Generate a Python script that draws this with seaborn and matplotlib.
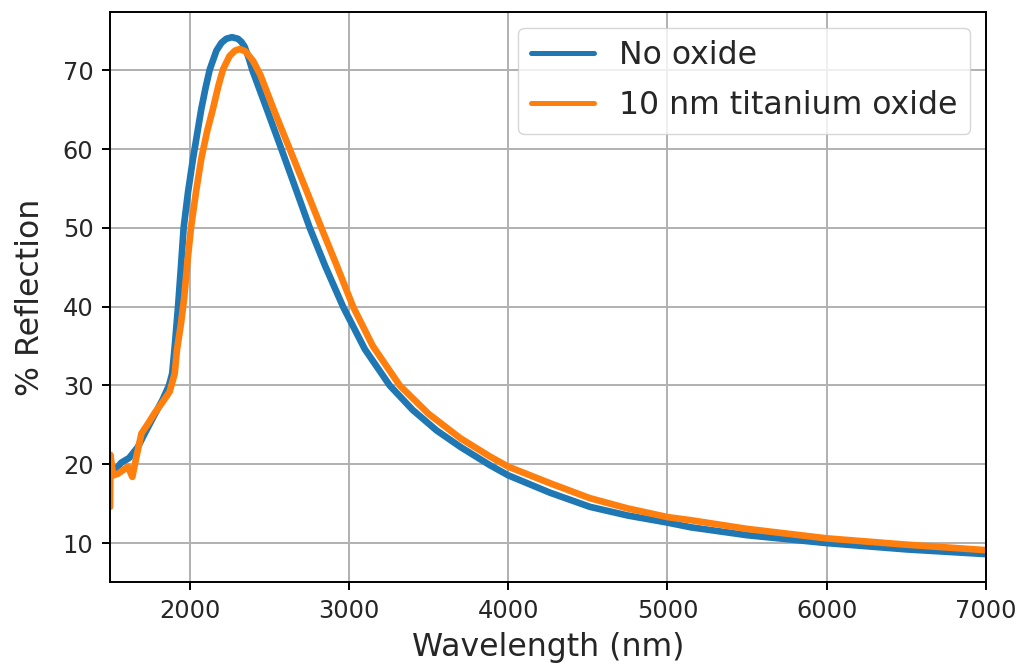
import matplotlib
matplotlib.use("Agg")
import matplotlib.pyplot as plt
import numpy as np
import pandas as pd
import seaborn as sns

# Reflection spectra (wavelength in nm, reflection in %)
bare_wavelength = [1500, 1530, 1570, 1620, 1675, 1720, 1780, 1830, 1870, 1890,
                   1906, 1927, 1945, 1962, 1990, 2021, 2073, 2100, 2126, 2168,
                   2200, 2230, 2265, 2303, 2325, 2345, 2370, 2394, 2480, 2576,
                   2660, 2754, 2850, 2963, 3100, 3256, 3400, 3550, 3700, 3884,
                   4000, 4262, 4513, 4750, 5000, 5147, 5500, 6000, 6500, 7000]
bare_reflection = [18.6, 19.2, 20.2, 20.8, 22.2, 24.0, 26.3, 28.2, 30.0, 31.5,
                   34.9, 40.0, 45.0, 50.0, 54.6, 58.8, 65.1, 67.8, 70.1, 72.5,
                   73.5, 74.0, 74.2, 74.0, 73.6, 73.0, 71.6, 70.0, 65.3, 60.0,
                   55.3, 50.0, 45.2, 40.0, 34.6, 30.0, 26.9, 24.3, 22.2, 19.9,
                   18.6, 16.4, 14.6, 13.5, 12.6, 12.0, 11.0, 10.0, 9.2, 8.6]

oxide_wavelength = [1500, 1502, 1520, 1550, 1612, 1640, 1665, 1697, 1740, 1780,
                    1830, 1874, 1906, 1920, 1945, 1965, 1985, 2008, 2040, 2073,
                    2110, 2146, 2180, 2209, 2250, 2285, 2314, 2350, 2398, 2444,
                    2490, 2530, 2628, 2720, 2827, 2920, 3026, 3150, 3319, 3500,
                    3700, 3884, 4000, 4262, 4513, 4750, 5000, 5147, 5500, 6000,
                    6500, 7000]
oxide_reflection = [14.6, 21.2, 18.6, 18.8, 19.7, 18.4, 20.9, 23.9, 25.2, 26.5,
                    27.9, 29.2, 31.5, 34.5, 37.8, 41.0, 45.5, 50.0, 54.6, 58.8,
                    62.3, 65.1, 68.0, 70.1, 71.8, 72.5, 72.7, 72.4, 71.2, 69.4,
                    67.0, 64.9, 60.0, 55.4, 50.0, 45.4, 40.0, 35.0, 30.0, 26.4,
                    23.3, 21.0, 19.7, 17.6, 15.7, 14.4, 13.3, 12.9, 11.8, 10.6,
                    9.8, 9.1]

series_labels = ["No oxide", "10 nm titanium oxide"]
series_colors = ["#1f77b4", "#ff7f0e"]
x_ticks = [2000, 3000, 4000, 5000, 6000, 7000]
y_ticks = [10, 20, 30, 40, 50, 60, 70]

df = pd.concat([
    pd.DataFrame({"wavelength": bare_wavelength, "reflection": bare_reflection,
                  "sample": series_labels[0]}),
    pd.DataFrame({"wavelength": oxide_wavelength, "reflection": oxide_reflection,
                  "sample": series_labels[1]}),
], ignore_index=True)

sns.set_style("ticks")
plt.rcParams.update({
    "font.family": ["DejaVu Sans"],
    "axes.edgecolor": "black",
    "axes.linewidth": 1.4,
    "xtick.major.size": 6,
    "ytick.major.size": 6,
    "xtick.major.width": 1.4,
    "ytick.major.width": 1.4,
    "xtick.major.pad": 6,
    "ytick.major.pad": 6,
    "xtick.color": "black",
    "ytick.color": "black",
    "xtick.labelcolor": "#262626",
    "ytick.labelcolor": "#262626",
})

fig = plt.figure(figsize=(10.19, 6.66), dpi=100)
ax = fig.add_axes([0.108, 0.126, 0.8596, 0.856])

sns.lineplot(data=df, x="wavelength", y="reflection", hue="sample",
             hue_order=series_labels, palette=series_colors,
             estimator=None, sort=False, linewidth=4.8, ax=ax, legend=False)

ax.set_xlim(1500, 7000)
ax.set_ylim(5.05, 77.4)
ax.set_xticks(x_ticks)
ax.set_yticks(y_ticks)
ax.tick_params(labelsize=17.4)
ax.grid(True, color="#b0b0b0", linewidth=1.4)
ax.set_axisbelow(True)

ax.set_xlabel("Wavelength (nm)", fontsize=22.7, labelpad=7, color="#262626")
ax.set_ylabel("% Reflection", fontsize=22.7, labelpad=12, color="#262626")

handles = [plt.Line2D([], [], color=c, linewidth=3.6) for c in series_colors]
ax.legend(handles, series_labels, loc="upper right", fontsize=22.7,
          labelspacing=0.6, frameon=True, fancybox=True, framealpha=0.8,
          edgecolor="#cccccc")

fig.savefig("out.png", dpi=100)
